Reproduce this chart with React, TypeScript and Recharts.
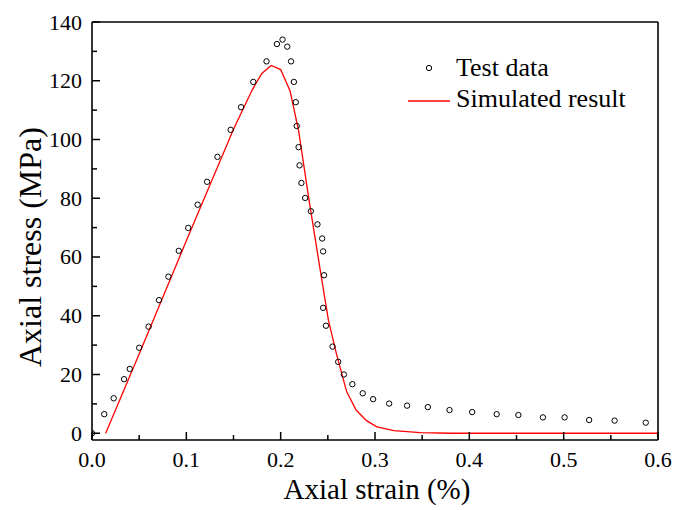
import React from 'react';
import {
  ComposedChart,
  Scatter,
  Line,
  XAxis,
  YAxis,
  ReferenceLine,
  Legend
} from 'recharts';

// test data (circles)
const testStrain = [
  0.0, 0.013, 0.023, 0.034, 0.04, 0.05, 0.06, 0.071, 0.081, 0.092, 0.102, 0.112, 0.122,
  0.133, 0.147, 0.158, 0.171, 0.185, 0.196, 0.202, 0.207, 0.211, 0.214, 0.216, 0.217,
  0.219, 0.22, 0.222, 0.226, 0.232, 0.239, 0.244, 0.245, 0.246, 0.245, 0.248, 0.255,
  0.261, 0.267, 0.276, 0.287, 0.298, 0.315, 0.334, 0.356, 0.379, 0.403, 0.429, 0.452,
  0.478, 0.501, 0.527, 0.554, 0.587
];
const testStress = [
  0.0, 6.5, 11.9, 18.4, 21.9, 29.1, 36.3, 45.3, 53.3, 62.1, 69.9, 77.8, 85.6,
  94.1, 103.3, 111.0, 119.6, 126.6, 132.5, 134.0, 131.6, 126.6, 119.6, 112.7, 104.6,
  97.4, 91.2, 85.2, 80.1, 75.6, 71.1, 66.3, 61.9, 53.8, 42.7, 36.6, 29.5,
  24.3, 20.0, 16.7, 13.6, 11.6, 10.1, 9.4, 8.9, 7.9, 7.2, 6.5, 6.2,
  5.4, 5.4, 4.5, 4.3, 3.6
];

// simulated curve (red line)
const simStrain = [
  0.0145, 0.05, 0.1, 0.15, 0.17, 0.18, 0.19, 0.2, 0.21, 0.219, 0.23, 0.2425, 0.2506,
  0.259, 0.27, 0.28, 0.291, 0.302, 0.32, 0.348, 0.38, 0.45, 0.6
];
const simStress = [
  0, 27, 65.5, 103.5, 117, 122.5, 125.2, 123.8, 116.5, 103, 79.5, 54.4, 38.5,
  27.2, 14.1, 7.9, 4.3, 2.2, 0.9, 0.2, 0, 0, 0
];

const xTicks = [0, 0.05, 0.1, 0.15, 0.2, 0.25, 0.3, 0.35, 0.4, 0.45, 0.5, 0.55, 0.6];
const yTicks = [0, 10, 20, 30, 40, 50, 60, 70, 80, 90, 100, 110, 120, 130, 140];

const testData = testStrain.map((s, i) => ({ strain: s, stress: testStress[i] }));
const simData = simStrain.map((s, i) => ({ strain: s, stress: simStress[i] }));

const FONT = '"Liberation Serif", "Times New Roman", serif';

const isMajorX = (v: number) => Math.abs(v * 10 - Math.round(v * 10)) < 1e-6;

const XTick = (props: any) => {
  const { x, y, payload } = props;
  const v = payload.value;
  const major = isMajorX(v);
  return (
    <g>
      <line x1={x} x2={x} y1={y} y2={y - (major ? 8 : 5)} stroke="#000" strokeWidth={1.5} />
      {major && (
        <text x={x} y={y + 27} textAnchor="middle" fontFamily={FONT} fontSize={22} fill="#000">
          {v.toFixed(1)}
        </text>
      )}
    </g>
  );
};

const YTick = (props: any) => {
  const { x, y, payload } = props;
  const v = payload.value;
  const major = v % 20 === 0;
  return (
    <g>
      <line x1={x} x2={x + (major ? 8 : 5)} y1={y} y2={y} stroke="#000" strokeWidth={1.5} />
      {major && (
        <text x={x - 10} y={y} dy={7.5} textAnchor="end" fontFamily={FONT} fontSize={22} fill="#000">
          {v}
        </text>
      )}
    </g>
  );
};

const Circle = (p: any) => (
  <circle cx={p.cx} cy={p.cy} r={2.7} fill="none" stroke="#000" strokeWidth={1} />
);

const LegendBox = () => (
  <svg width={240} height={65} style={{ display: 'block' }}>
    <circle cx={29} cy={18} r={2.7} fill="none" stroke="#000" strokeWidth={1} />
    <text x={56} y={26} fontFamily={FONT} fontSize={26} fill="#000">Test data</text>
    <line x1={8} x2={50} y1={51} y2={51} stroke="#ff0000" strokeWidth={1.3} />
    <text x={56} y={57} fontFamily={FONT} fontSize={26} fill="#000">Simulated result</text>
  </svg>
);

export default function App() {
  return (
    <div style={{ position: 'absolute', left: 0, top: 0, background: '#fff' }}>
      <ComposedChart
        width={673}
        height={510}
        margin={{ top: 22, right: 15, left: 0, bottom: 0 }}
      >
        <XAxis
          dataKey="strain"
          type="number"
          domain={[0, 0.6]}
          ticks={xTicks}
          interval={0}
          allowDataOverflow
          height={70}
          tickSize={0}
          tickMargin={0}
          tickLine={false}
          tick={<XTick />}
          axisLine={{ stroke: '#000', strokeWidth: 1.6 }}
          label={(lp: any) => {
            const vb = lp.viewBox;
            return (
              <text
                x={vb.x + vb.width / 2 + 2}
                y={vb.y + 59}
                textAnchor="middle"
                fontFamily={FONT}
                fontSize={29}
                fill="#000"
              >
                Axial strain (%)
              </text>
            );
          }}
        />
        <YAxis
          dataKey="stress"
          type="number"
          domain={[-2.3, 140]}
          ticks={yTicks}
          interval={0}
          allowDataOverflow
          width={92}
          tickSize={0}
          tickMargin={0}
          tickLine={false}
          tick={<YTick />}
          axisLine={{ stroke: '#000', strokeWidth: 1.6 }}
          label={() => {
            const cx = 30;
            const cy = 247;
            return (
              <text
                x={cx}
                y={cy}
                transform={`rotate(-90, ${cx}, ${cy})`}
                textAnchor="middle"
                dominantBaseline="central"
                fontFamily={FONT}
                fontSize={32}
                fill="#000"
              >
                Axial stress (MPa)
              </text>
            );
          }}
        />
        <ReferenceLine y={140} stroke="#000" strokeWidth={1.6} />
        <ReferenceLine x={0.6} stroke="#000" strokeWidth={1.6} />
        <Line
          data={simData}
          dataKey="stress"
          type="linear"
          stroke="#ff0000"
          strokeWidth={1.3}
          dot={false}
          activeDot={false}
          isAnimationActive={false}
        />
        <Scatter
          data={testData}
          dataKey="stress"
          shape={<Circle />}
          isAnimationActive={false}
        />
        <Legend
          layout="vertical"
          align="center"
          verticalAlign="middle"
          content={<LegendBox />}
          wrapperStyle={{ position: 'absolute', left: 400, top: 50, width: 240, height: 65 }}
        />
      </ComposedChart>
    </div>
  );
}
